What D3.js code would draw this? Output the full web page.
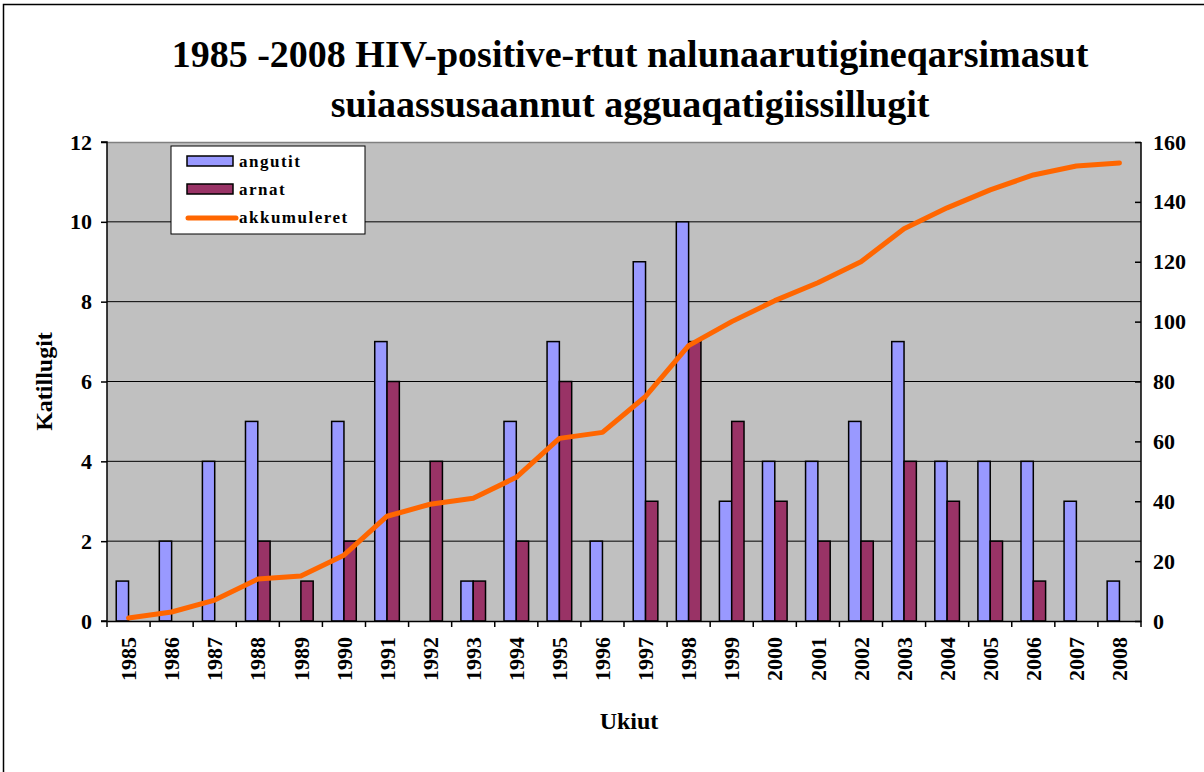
<!DOCTYPE html>
<html>
<head>
<meta charset="utf-8">
<script src="https://cdn.jsdelivr.net/npm/d3@7"></script>
<style>
  body { margin: 0; background: #fff; }
  svg text { font-family: "Liberation Serif", "Times New Roman", serif; }
</style>
</head>
<body>
<div id="chart"></div>
<script>
// data
var years = ["1985","1986","1987","1988","1989","1990","1991","1992","1993","1994","1995","1996",
             "1997","1998","1999","2000","2001","2002","2003","2004","2005","2006","2007","2008"];
var angutit = [1,2,4,5,0,5,7,0,1,5,7,2,9,10,3,4,4,5,7,4,4,4,3,1];
var arnat   = [0,0,0,2,1,2,6,4,1,2,6,0,3,7,5,3,2,2,4,3,2,1,0,0];
var akkumuleret = [1,3,7,14,15,22,35,39,41,48,61,63,75,92,100,107,113,120,131,138,144,149,152,153];
var leftTicks = [0,2,4,6,8,10,12];
var rightTicks = [0,20,40,60,80,100,120,140,160];

var width = 1204, height = 772;
var margin = {top: 142, right: 63, bottom: 151, left: 107};
var w = width - margin.left - margin.right,
    h = height - margin.top - margin.bottom;

var svg = d3.select("#chart").append("svg")
  .attr("width", width)
  .attr("height", height);

// outer frame (right and bottom edges fall outside the picture)
svg.append("rect")
  .attr("x", 3.5).attr("y", 4.5)
  .attr("width", 1220).attr("height", 790)
  .attr("fill", "none").attr("stroke", "#000").attr("stroke-width", 1.5);

// title
svg.append("text")
  .attr("x", 630).attr("y", 67)
  .attr("text-anchor", "middle")
  .attr("font-size", 38).attr("font-weight", "bold")
  .text("1985 -2008 HIV-positive-rtut nalunaarutigineqarsimasut");
svg.append("text")
  .attr("x", 630).attr("y", 117)
  .attr("text-anchor", "middle")
  .attr("font-size", 38).attr("font-weight", "bold")
  .text("suiaassusaannut agguaqatigiissillugit");

var g = svg.append("g")
  .attr("transform", "translate(" + margin.left + "," + margin.top + ")");

var x = d3.scaleBand().domain(years).range([0, w]);
var gap = 1.5; // gap width 150%
var bw = x.bandwidth() / (2 + gap);
var x1 = d3.scaleBand().domain(["angutit","arnat"])
  .range([bw * gap / 2, bw * gap / 2 + 2 * bw]);

var yL = d3.scaleLinear().domain([0, 12]).range([h, 0]);
var yR = d3.scaleLinear().domain([0, 160]).range([h, 0]);

// plot background
g.append("rect")
  .attr("width", w).attr("height", h)
  .attr("fill", "#c0c0c0");

// gridlines
g.selectAll(".grid")
  .data(leftTicks.filter(function(d) { return d > 0 && d < 12; }))
  .enter().append("line")
  .attr("x1", 0).attr("x2", w)
  .attr("y1", function(d) { return yL(d); })
  .attr("y2", function(d) { return yL(d); })
  .attr("stroke", "#000").attr("stroke-width", 1);
g.append("line")
  .attr("x1", 0).attr("x2", w).attr("y1", 0.5).attr("y2", 0.5)
  .attr("stroke", "#808080").attr("stroke-width", 1.5);

// bars
var groups = g.selectAll(".yr")
  .data(years)
  .enter().append("g")
  .attr("transform", function(d) { return "translate(" + x(d) + ",0)"; });

groups.append("rect")
  .attr("x", x1("angutit"))
  .attr("width", x1.bandwidth())
  .attr("y", function(d, i) { return yL(angutit[i]); })
  .attr("height", function(d, i) { return h - yL(angutit[i]); })
  .attr("fill", "#9999ff")
  .attr("stroke", function(d, i) { return angutit[i] > 0 ? "#000" : "none"; })
  .attr("stroke-width", 1.5);

groups.append("rect")
  .attr("x", x1("arnat"))
  .attr("width", x1.bandwidth())
  .attr("y", function(d, i) { return yL(arnat[i]); })
  .attr("height", function(d, i) { return h - yL(arnat[i]); })
  .attr("fill", "#993366")
  .attr("stroke", function(d, i) { return arnat[i] > 0 ? "#000" : "none"; })
  .attr("stroke-width", 1.5);

// cumulative line
var line = d3.line()
  .x(function(d, i) { return x(years[i]) + x.bandwidth() / 2; })
  .y(function(d) { return yR(d); });

g.append("path")
  .datum(akkumuleret)
  .attr("d", line)
  .attr("fill", "none")
  .attr("stroke", "#ff6600")
  .attr("stroke-width", 5)
  .attr("stroke-linecap", "round")
  .attr("stroke-linejoin", "round");

// axes
var axL = g.append("g")
  .call(d3.axisLeft(yL).tickValues(leftTicks).tickSize(6).tickPadding(9));
var axR = g.append("g")
  .attr("transform", "translate(" + w + ",0)")
  .call(d3.axisRight(yR).tickValues(rightTicks).tickSizeInner(-6).tickSizeOuter(0).tickPadding(12));
var axB = g.append("g")
  .attr("transform", "translate(0," + h + ")")
  .call(d3.axisBottom(x).tickSize(0).tickPadding(12));

// ticks between categories
g.selectAll(".xtick")
  .data(years.concat(["end"]))
  .enter().append("line")
  .attr("x1", function(d, i) { return i * x.step(); })
  .attr("x2", function(d, i) { return i * x.step(); })
  .attr("y1", h).attr("y2", h + 6)
  .attr("stroke", "#000").attr("stroke-width", 1.5);

[axL, axR, axB].forEach(function(a) {
  a.select(".domain").attr("stroke", "#000").attr("stroke-width", 1.5);
  a.selectAll(".tick line").attr("stroke", "#000").attr("stroke-width", 1.5);
  a.selectAll("text")
    .attr("font-family", null)
    .attr("font-size", 22).attr("font-weight", "bold").attr("fill", "#000");
});
axL.attr("font-family", null);
axR.attr("font-family", null);
axB.attr("font-family", null);
axR.select(".domain").attr("d", "M0,0V" + h);
axL.select(".domain").attr("d", "M-6,0H0V" + h + "H-6");

axB.selectAll("text")
  .attr("transform", "rotate(-90)")
  .attr("text-anchor", "end")
  .attr("x", -16).attr("y", 0)
  .attr("dy", "0.35em");

// axis titles
svg.append("text")
  .attr("transform", "translate(52," + (margin.top + h / 2) + ") rotate(-90)")
  .attr("text-anchor", "middle")
  .attr("font-size", 24).attr("font-weight", "bold")
  .text("Katillugit");

svg.append("text")
  .attr("x", 629).attr("y", 729)
  .attr("text-anchor", "middle")
  .attr("font-size", 24).attr("font-weight", "bold")
  .text("Ukiut");

// legend
var legend = svg.append("g").attr("transform", "translate(171,146)");
legend.append("rect")
  .attr("width", 194).attr("height", 88)
  .attr("fill", "#fff").attr("stroke", "#000").attr("stroke-width", 1);

var legendItems = [
  {name: "angutit", type: "bar", color: "#9999ff"},
  {name: "arnat", type: "bar", color: "#993366"},
  {name: "akkumuleret", type: "line", color: "#ff6600"}
];
var li = legend.selectAll(".li")
  .data(legendItems)
  .enter().append("g")
  .attr("transform", function(d, i) { return "translate(0," + (15 + i * 28) + ")"; });

li.filter(function(d) { return d.type === "bar"; })
  .append("rect")
  .attr("x", 16).attr("y", -5).attr("width", 46).attr("height", 10)
  .attr("fill", function(d) { return d.color; })
  .attr("stroke", "#000").attr("stroke-width", 1.5);
li.filter(function(d) { return d.type === "line"; })
  .append("line")
  .attr("x1", 17).attr("x2", 65).attr("y1", 1).attr("y2", 1)
  .attr("stroke", function(d) { return d.color; })
  .attr("stroke-width", 5).attr("stroke-linecap", "round");
li.append("text")
  .attr("x", 68).attr("y", 0).attr("dy", "0.35em")
  .attr("font-size", 17).attr("font-weight", "bold")
  .attr("letter-spacing", 1.5)
  .text(function(d) { return d.name; });
</script>
</body>
</html>
